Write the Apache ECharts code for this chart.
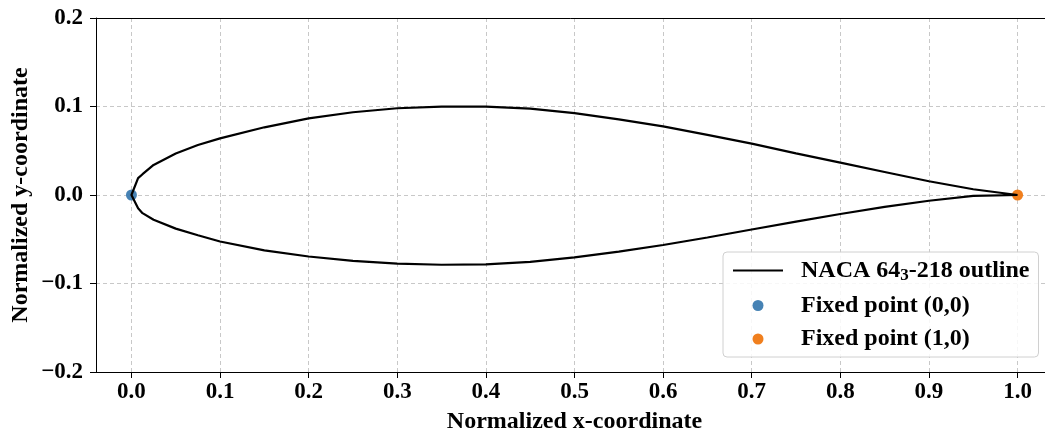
<!DOCTYPE html>
<html>
<head>
<meta charset="utf-8">
<script src="https://cdn.jsdelivr.net/npm/echarts@6/dist/echarts.min.js"></script>
<style>
  html, body { margin: 0; padding: 0; background: #fff; }
  #chart { width: 1045px; height: 432px; }
</style>
</head>
<body>
<div id="chart"></div>
<script>
// Chordwise stations (fraction of chord) and surface ordinates
const xStations = [0, 0.0075, 0.0125, 0.025, 0.05, 0.075, 0.1, 0.15, 0.2, 0.25, 0.3, 0.35, 0.4,
  0.45, 0.5, 0.55, 0.6, 0.65, 0.7, 0.75, 0.8, 0.85, 0.9, 0.95, 1.0];
const upperY = [0, 0.019, 0.0235, 0.034, 0.047, 0.0565, 0.064, 0.0765, 0.0865, 0.0935, 0.098, 0.0998, 0.0998,
  0.0975, 0.0925, 0.0855, 0.0775, 0.068, 0.058, 0.047, 0.0365, 0.026, 0.0155, 0.0065, 0];
const lowerY = [0, -0.015, -0.0205, -0.028, -0.038, -0.0455, -0.0525, -0.0625, -0.0695, -0.0745, -0.0775, -0.0788, -0.0785,
  -0.0755, -0.0705, -0.064, -0.0565, -0.048, -0.039, -0.030, -0.0215, -0.0135, -0.0065, -0.001, 0];

// Pinned leading / trailing edge points
const fixedLeading = [[0, 0]];
const fixedTrailing = [[1, 0]];

// Axis tick values
const xTicks = [0, 0.1, 0.2, 0.3, 0.4, 0.5, 0.6, 0.7, 0.8, 0.9, 1.0];

const outlineName = 'NACA 64\u2083-218 outline';
const leadName = 'Fixed point (0,0)';
const trailName = 'Fixed point (1,0)';

// Closed outline: upper surface trailing edge -> leading edge, then lower surface back
const outline = [];
for (let i = xStations.length - 1; i >= 0; i--) outline.push([xStations[i], upperY[i]]);
for (let i = 1; i < xStations.length; i++) outline.push([xStations[i], lowerY[i]]);

const FONT = '"Liberation Serif", "Times New Roman", serif';
const fmt = v => v.toFixed(1).replace('-', '\u2212');
const gridDash = { color: '#c8c8c8', width: 1, type: [4, 3] };
const titleStyle = { fontFamily: FONT, fontWeight: 'bold', fontSize: 24, color: '#000' };
const tickFont = { fontFamily: FONT, fontWeight: 'bold', fontSize: 23, color: '#000' };

const chart = echarts.init(document.getElementById('chart'), null, { renderer: 'canvas' });
chart.setOption({
  animation: false,
  backgroundColor: '#fff',
  grid: {
    left: 96, right: -8, top: 18, bottom: 60,
    containLabel: false, outerBoundsMode: 'none'
  },
  xAxis: [
    {
      type: 'value', min: -0.04, max: 1.04,
      name: 'Normalized x-coordinate', nameLocation: 'middle', nameGap: 38, nameMoveOverlap: false,
      nameTextStyle: titleStyle,
      axisLine: { show: true, onZero: false, lineStyle: { color: '#000', width: 1 } },
      axisTick: { show: true, length: 6, lineStyle: { color: '#000' }, customValues: xTicks },
      axisLabel: Object.assign({ customValues: xTicks, formatter: fmt, margin: 9 }, tickFont),
      splitLine: { show: true, lineStyle: gridDash }
    },
    {
      // top frame line
      type: 'value', min: -0.04, max: 1.04, position: 'top',
      axisLine: { show: true, onZero: false, lineStyle: { color: '#000', width: 1 } },
      axisTick: { show: false }, axisLabel: { show: false }, splitLine: { show: false }
    }
  ],
  yAxis: {
    type: 'value', min: -0.2, max: 0.2, interval: 0.1,
    name: 'Normalized y-coordinate', nameLocation: 'middle', nameGap: 63, nameRotate: 90,
    nameMoveOverlap: false,
    nameTextStyle: titleStyle,
    axisLine: { show: true, onZero: false, lineStyle: { color: '#000', width: 1 } },
    axisTick: { show: true, length: 6, lineStyle: { color: '#000' } },
    axisLabel: Object.assign({ formatter: fmt, margin: 13 }, tickFont),
    splitLine: { show: true, lineStyle: gridDash }
  },
  legend: {
    orient: 'vertical', left: 723, top: 252,
    padding: [5, 9, 6, 9], itemGap: 9.5, itemWidth: 50, itemHeight: 11,
    backgroundColor: 'rgba(255,255,255,0.85)', borderColor: '#d0d0d0', borderWidth: 1, borderRadius: 4,
    data: [
      { name: outlineName, itemStyle: { color: 'rgba(0,0,0,0)', borderWidth: 0 } },
      { name: leadName, icon: 'circle' },
      { name: trailName, icon: 'circle' }
    ],
    formatter: name => name === outlineName
      ? '{t|NACA 64}{s|3}{t|-218 outline}'
      : '{t|' + name + '}',
    textStyle: {
      padding: [0, 0, 0, 13],
      rich: {
        t: { fontFamily: FONT, fontWeight: 'bold', fontSize: 24, color: '#000', lineHeight: 26 },
        s: { fontFamily: FONT, fontWeight: 'bold', fontSize: 17, color: '#000', lineHeight: 26, padding: [10, 0, 0, 0] }
      }
    }
  },
  series: [
    {
      name: leadName, type: 'scatter', data: fixedLeading, symbolSize: 11, z: 2,
      itemStyle: { color: '#4682b4', opacity: 1 }
    },
    {
      name: trailName, type: 'scatter', data: fixedTrailing, symbolSize: 11, z: 2,
      itemStyle: { color: '#f07f1e', opacity: 1 }
    },
    {
      name: outlineName, type: 'line', data: outline, symbol: 'none', z: 3,
      lineStyle: { color: '#000', width: 2.2 }, itemStyle: { color: '#000' }
    }
  ]
});
</script>
</body>
</html>
